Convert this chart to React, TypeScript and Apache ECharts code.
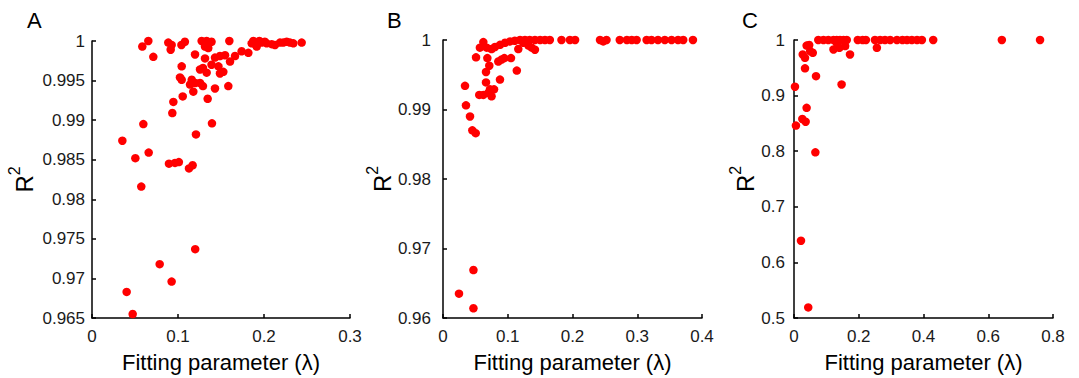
import React, { useEffect, useRef } from "react";
import * as echarts from "echarts";

// Panel A data
const aX = [0.0655,0.0585,0.0713,0.0887,0.0926,0.0915,0.104,0.108,0.1198,0.1275,0.1333,0.139,0.1314,0.1352,0.1597,0.1314,0.143,0.1488,0.1547,0.1605,0.1663,0.174,0.1818,0.139,0.129,0.147,0.1488,0.1527,0.1043,0.1256,0.1333,0.1023,0.1043,0.116,0.12,0.114,0.1256,0.129,0.143,0.1585,0.1178,0.1055,0.1345,0.0946,0.0934,0.0597,0.1395,0.1209,0.0353,0.0659,0.0504,0.0895,0.0965,0.101,0.1128,0.117,0.0573,0.12,0.0787,0.0926,0.0403,0.0473,0.1857,0.1876,0.1907,0.1915,0.1973,0.2031,0.209,0.2128,0.2186,0.2224,0.2264,0.2302,0.2341,0.2438,0.1946,0.201,0.1364];
const aY = [1.0,0.9993,0.998,0.9998,0.9995,0.9989,0.9995,0.9999,0.9983,1.0,1.0,0.9999,0.9993,0.9991,1.0,0.9978,0.9979,0.9981,0.9982,0.9974,0.9981,0.9987,0.9985,0.997,0.9966,0.9968,0.9959,0.9961,0.9968,0.9964,0.996,0.9954,0.9951,0.9951,0.9947,0.9945,0.9947,0.9943,0.994,0.9943,0.9936,0.993,0.9927,0.9923,0.9909,0.9895,0.9896,0.9882,0.9874,0.9859,0.9852,0.9845,0.9846,0.9847,0.9839,0.9843,0.9816,0.9737,0.9718,0.9696,0.9683,0.9655,0.9997,1.0,0.9995,0.9993,0.9998,0.9997,0.9996,0.9995,0.9998,0.9998,0.9999,0.9998,0.9997,0.9998,1.0,0.9999,0.9998];

// Panel B data
const bX = [0.0247,0.047,0.047,0.034,0.0355,0.0417,0.0453,0.0505,0.051,0.057,0.0623,0.0675,0.0685,0.0715,0.0664,0.0664,0.056,0.0623,0.07,0.075,0.0788,0.0726,0.088,0.0854,0.0947,0.105,0.0906,0.114,0.075,0.0803,0.088,0.0958,0.1035,0.111,0.119,0.1266,0.134,0.142,0.15,0.1575,0.165,0.1163,0.137,0.142,0.132,0.124,0.183,0.196,0.204,0.2425,0.2475,0.2525,0.273,0.284,0.2915,0.299,0.3145,0.322,0.332,0.3426,0.353,0.363,0.371,0.386];
const bY = [0.9635,0.9669,0.9614,0.9934,0.9906,0.989,0.987,0.9866,0.9975,0.9989,0.9997,0.9989,0.9974,0.9963,0.9954,0.9939,0.9921,0.9921,0.9924,0.9919,0.9929,0.9929,0.9943,0.9969,0.9974,0.9974,0.9972,0.9956,0.9987,0.999,0.9993,0.9996,0.9998,0.9999,1.0,1.0,1.0,1.0,1.0,1.0,1.0,0.9987,0.9989,0.9986,0.9992,0.9996,1.0,1.0,1.0,1.0,0.9998,1.0,1.0,1.0,1.0,1.0,1.0,1.0,1.0,1.0,1.0,1.0,1.0,1.0];

// Panel C data
const cX = [0.003,0.006,0.0216,0.044,0.0257,0.036,0.039,0.066,0.068,0.034,0.027,0.034,0.058,0.039,0.047,0.147,0.173,0.122,0.14,0.158,0.256,0.075,0.091,0.106,0.122,0.132,0.142,0.153,0.163,0.132,0.197,0.212,0.222,0.25,0.266,0.281,0.297,0.318,0.335,0.349,0.364,0.38,0.395,0.43,0.642,0.76,0.05];
const cY = [0.916,0.846,0.639,0.519,0.858,0.853,0.878,0.798,0.935,0.949,0.974,0.968,0.977,0.99,0.991,0.92,0.974,0.983,0.986,0.989,0.986,1,1,1,1,1,1,1,1,0.995,1,1,1,1,1,1,1,1,1,1,1,1,1,1,1,1,0.98];

const panelLetters = ["A", "B", "C"];
const xName = "Fitting parameter (λ)";

const FONT = "Liberation Sans, Arial, sans-serif";

function zip(xs: number[], ys: number[]) {
  return xs.map((x, i) => [x, ys[i]]);
}

export default function App() {
  const ref = useRef<HTMLDivElement>(null);
  useEffect(() => {
    document.body.style.margin = "0";
    if (!ref.current) return;
    const chart = echarts.init(ref.current, undefined, { renderer: "svg" });
    const grids = [
      { left: 92, top: 41, width: 258, height: 277 },
      { left: 443, top: 40, width: 259, height: 278 },
      { left: 794, top: 40, width: 259, height: 278 },
    ];
    const xCfg = [
      { max: 0.3, interval: 0.1 },
      { max: 0.4, interval: 0.1 },
      { max: 0.8, interval: 0.2 },
    ];
    const yCfg = [
      { min: 0.965, max: 1, interval: 0.005, dec: 3, gap: 56, margin: 7 },
      { min: 0.96, max: 1, interval: 0.01, dec: 2, gap: 41, margin: 12 },
      { min: 0.5, max: 1, interval: 0.1, dec: 1, gap: 31, margin: 9 },
    ];
    const axisLine = { show: true, onZero: false, lineStyle: { color: "#000", width: 1.5 } };
    const axisTick = { show: true, inside: true, length: 4, lineStyle: { color: "#000", width: 1.5 } };
    const option: any = {
      animation: false,
      backgroundColor: "#fff",
      grid: grids.map((g) => ({ ...g, containLabel: false })),
      xAxis: xCfg.map((c, i) => ({
        gridIndex: i,
        type: "value",
        min: 0,
        max: c.max,
        interval: c.interval,
        name: xName,
        nameLocation: "middle",
        nameGap: 33,
        nameTextStyle: { fontSize: 22, color: "#000", fontFamily: FONT },
        axisLine,
        axisTick,
        axisLabel: {
          fontSize: 17,
          color: "#1a1a1a",
          margin: 10,
          fontFamily: FONT,
          formatter: (v: number) => String(+v.toFixed(2)),
        },
        splitLine: { show: false },
      })),
      yAxis: yCfg.map((c, i) => ({
        gridIndex: i,
        type: "value",
        min: c.min,
        max: c.max,
        interval: c.interval,
        name: "{r|R}{s|2}",
        nameLocation: "middle",
        nameGap: c.gap,
        nameTextStyle: {
          fontFamily: FONT,
          color: "#000",
          rich: {
            r: { fontSize: 24, fontFamily: FONT, color: "#000", lineHeight: 30, verticalAlign: "bottom" },
            s: { fontSize: 16, fontFamily: FONT, color: "#000", lineHeight: 30, verticalAlign: "top" },
          },
        },
        axisLine,
        axisTick,
        axisLabel: {
          fontSize: 17,
          color: "#1a1a1a",
          margin: c.margin,
          fontFamily: FONT,
          formatter: (v: number) => String(+v.toFixed(c.dec)),
        },
        splitLine: { show: false },
      })),
      series: [zip(aX, aY), zip(bX, bY), zip(cX, cY)].map((d, i) => ({
        type: "scatter",
        xAxisIndex: i,
        yAxisIndex: i,
        data: d,
        symbolSize: 8.5,
        itemStyle: { color: "#ff0000", opacity: 1 },
      })),
      graphic: panelLetters.map((t, i) => ({
        type: "text",
        left: [27, 387, 742][i],
        top: 9,
        style: { text: t, fontSize: 22, fontFamily: FONT, fill: "#000" },
      })),
    };
    chart.setOption(option);
    return () => chart.dispose();
  }, []);
  return <div ref={ref} style={{ width: 1079, height: 378 }} />;
}
